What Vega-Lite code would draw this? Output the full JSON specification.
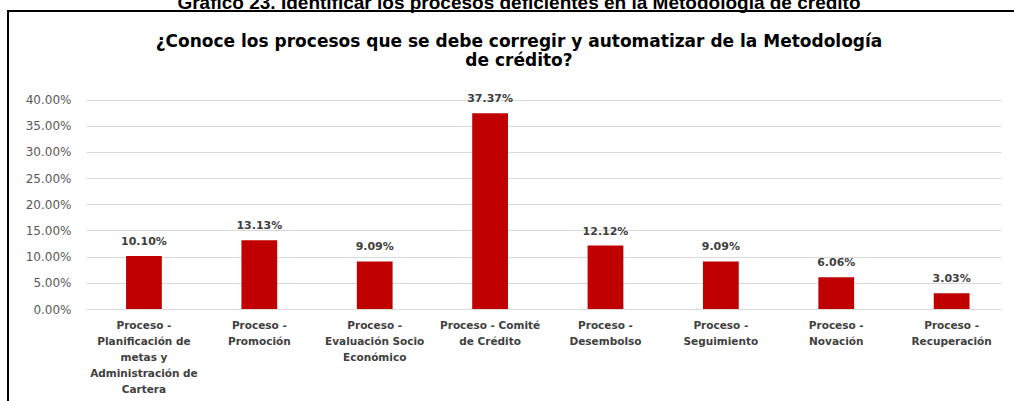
{
  "$schema": "https://vega.github.io/schema/vega-lite/v6.json",
  "autosize": {"type": "none"},
  "padding": {"left": 8, "top": 11, "right": 0, "bottom": 0},
  "width": 1008,
  "height": 392,
  "background": "#ffffff",
  "config": {
    "view": {"stroke": "#000000", "strokeWidth": 2}
  },
  "title": {
    "text": "Gráfico 23. Identificar los procesos deficientes en la Metodología de crédito",
    "subtitle": ["¿Conoce los procesos que se debe corregir y automatizar de la Metodología", "de crédito?"],
    "anchor": "middle",
    "frame": "group",
    "font": "Liberation Sans",
    "fontSize": 19,
    "fontWeight": "bold",
    "color": "#000000",
    "subtitleFont": "DejaVu Sans",
    "subtitleFontSize": 17,
    "subtitleFontWeight": "bold",
    "subtitleColor": "#000000",
    "subtitlePadding": 21,
    "subtitleLineHeight": 19,
    "offset": -58,
    "dx": 7
  },
  "data": {
    "values": [
      {"proceso": "Proceso -|Planificación de|metas y|Administración de|Cartera", "pct": 0.1010},
      {"proceso": "Proceso -|Promoción", "pct": 0.1313},
      {"proceso": "Proceso -|Evaluación Socio|Económico", "pct": 0.0909},
      {"proceso": "Proceso - Comité|de Crédito", "pct": 0.3737},
      {"proceso": "Proceso -|Desembolso", "pct": 0.1212},
      {"proceso": "Proceso -|Seguimiento", "pct": 0.0909},
      {"proceso": "Proceso -|Novación", "pct": 0.0606},
      {"proceso": "Proceso -|Recuperación", "pct": 0.0303}
    ]
  },
  "encoding": {
    "x": {
      "field": "proceso",
      "type": "nominal",
      "sort": null,
      "scale": {"range": [78, 993], "paddingInner": 0.69, "paddingOuter": 0.31, "align": 0.56},
      "axis": {
        "title": null,
        "orient": "bottom",
        "offset": -94,
        "domain": false,
        "ticks": false,
        "grid": false,
        "labelAngle": 0,
        "labelExpr": "split(datum.label, '|')",
        "labelFont": "DejaVu Sans",
        "labelFontSize": 10.5,
        "labelFontWeight": "bold",
        "labelColor": "#404040",
        "labelLineHeight": 16,
        "labelPadding": 11,
        "labelLimit": 300
      }
    },
    "y": {
      "field": "pct",
      "type": "quantitative",
      "scale": {"domain": [0, 0.4], "range": [298, 88.5], "nice": false, "zero": true},
      "axis": {
        "title": null,
        "orient": "left",
        "offset": -78,
        "domain": false,
        "ticks": false,
        "grid": true,
        "gridColor": "#d9d9d9",
        "gridWidth": 1,
        "values": [0, 0.05, 0.1, 0.15, 0.2, 0.25, 0.3, 0.35, 0.4],
        "format": ".2%",
        "labelFont": "DejaVu Sans",
        "labelFontSize": 12,
        "labelColor": "#595959",
        "labelPadding": 15
      }
    }
  },
  "layer": [
    {"mark": {"type": "bar", "color": "#c00000"}},
    {
      "mark": {"type": "text", "baseline": "alphabetic", "dy": -11, "font": "DejaVu Sans", "fontSize": 11, "fontWeight": "bold", "color": "#404040"},
      "encoding": {"text": {"field": "pct", "type": "quantitative", "format": ".2%"}}
    }
  ]
}
